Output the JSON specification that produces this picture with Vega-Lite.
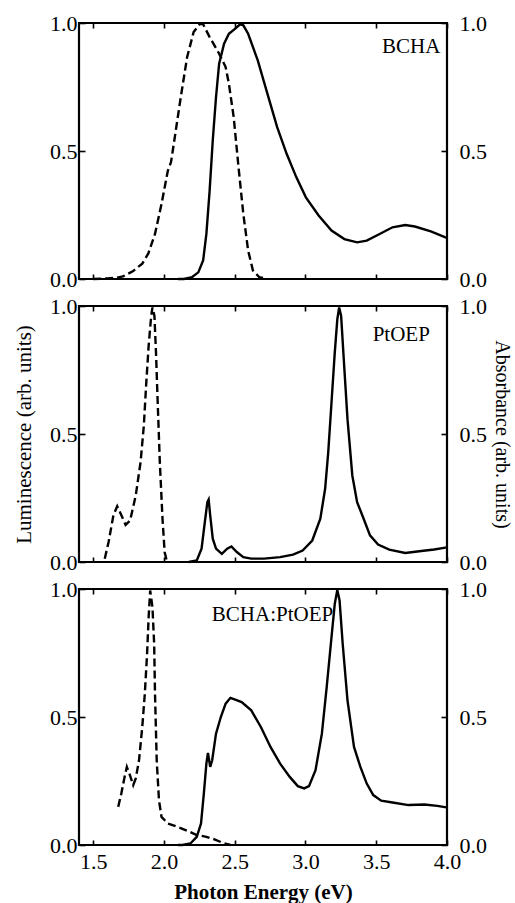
{
  "$schema": "https://vega.github.io/schema/vega-lite/v6.json",
  "background": "white",
  "padding": {"left": 12, "top": 10, "right": 0, "bottom": 0},
  "spacing": 27,
  "bounds": "flush",
  "config": {
    "font": "Liberation Serif",
    "view": {"stroke": "black", "strokeWidth": 2.2},
    "axis": {
      "labelFont": "Liberation Serif", "titleFont": "Liberation Serif",
      "labelColor": "black", "titleColor": "black", "tickColor": "black",
      "domain": false, "grid": false, "labelFontSize": 22, "titleFontSize": 21,
      "titleFontWeight": "normal", "labelFlush": false, "labelOverlap": false,
      "labelBound": false, "tickWidth": 1.6
    }
  },
  "vconcat": [
    {
      "width": 368, "height": 256,
      "layer": [
        {
          "data": {"values": [
            {"E":1.5,"v":0.0},{"E":1.6,"v":0.002},{"E":1.665,"v":0.005},{"E":1.71,"v":0.01},{"E":1.78,"v":0.03},{"E":1.847,"v":0.06},{"E":1.89,"v":0.1},{"E":1.937,"v":0.176},{"E":1.983,"v":0.293},{"E":2.028,"v":0.424},{"E":2.05,"v":0.456},{"E":2.073,"v":0.54},{"E":2.119,"v":0.71},{"E":2.164,"v":0.867},{"E":2.21,"v":0.965},{"E":2.255,"v":0.997},{"E":2.277,"v":0.995},{"E":2.323,"v":0.945},{"E":2.39,"v":0.88},{"E":2.436,"v":0.828},{"E":2.459,"v":0.763},{"E":2.493,"v":0.632},{"E":2.527,"v":0.437},{"E":2.561,"v":0.254},{"E":2.595,"v":0.111},{"E":2.629,"v":0.033},{"E":2.674,"v":0.007},{"E":2.73,"v":0.0}
          ]},
          "mark": {"type": "line", "color": "black", "strokeWidth": 2.4, "strokeDash": [8, 4]},
          "encoding": {
            "x": {"field": "E", "type": "quantitative", "scale": {"domain": [1.5, 4]},
                  "axis": {"orient": "bottom", "values": [1.5,2,2.5,3,3.5,4], "labels": false, "tickSize": -5, "title": null}},
            "y": {"field": "v", "type": "quantitative", "scale": {"domain": [0, 1]},
                  "axis": {"orient": "left", "values": [0,0.5,1], "format": ".1f", "tickSize": -6, "labelPadding": 8, "title": null}}
          }
        },
        {
          "data": {"values": [
            {"E":2.1,"v":0},{"E":2.141,"v":0},{"E":2.198,"v":0.007},{"E":2.243,"v":0.026},{"E":2.277,"v":0.072},{"E":2.3,"v":0.176},{"E":2.323,"v":0.345},{"E":2.345,"v":0.541},{"E":2.368,"v":0.71},{"E":2.39,"v":0.841},{"E":2.425,"v":0.919},{"E":2.459,"v":0.958},{"E":2.504,"v":0.978},{"E":2.538,"v":0.995},{"E":2.561,"v":0.991},{"E":2.595,"v":0.958},{"E":2.663,"v":0.854},{"E":2.731,"v":0.724},{"E":2.8,"v":0.593},{"E":2.867,"v":0.489},{"E":2.935,"v":0.398},{"E":3.003,"v":0.319},{"E":3.093,"v":0.248},{"E":3.184,"v":0.189},{"E":3.275,"v":0.156},{"E":3.365,"v":0.143},{"E":3.433,"v":0.15},{"E":3.524,"v":0.176},{"E":3.615,"v":0.202},{"E":3.705,"v":0.211},{"E":3.773,"v":0.205},{"E":3.886,"v":0.186},{"E":3.989,"v":0.163},{"E":4.0,"v":0.161}
          ]},
          "mark": {"type": "line", "color": "black", "strokeWidth": 2.4},
          "encoding": {
            "x": {"field": "E", "type": "quantitative", "scale": {"domain": [1.5, 4]},
                  "axis": {"orient": "top", "values": [1.5,2,2.5,3,3.5,4], "labels": false, "tickSize": -5, "title": null}},
            "y": {"field": "v", "type": "quantitative", "scale": {"domain": [0, 1]},
                  "axis": {"orient": "right", "values": [0,0.5,1], "format": ".1f", "tickSize": -6, "labelPadding": 18, "title": null}}
          }
        },
        {
          "data": {"values": [{"name": "BCHA"}]},
          "mark": {"type": "text", "align": "right", "baseline": "alphabetic", "fontSize": 21, "font": "Liberation Serif", "color": "black"},
          "encoding": {
            "x": {"datum": 3.953, "type": "quantitative", "axis": null},
            "y": {"datum": 0.882, "type": "quantitative", "axis": null},
            "text": {"field": "name"}
          }
        }
      ],
      "resolve": {"axis": {"x": "independent", "y": "independent"}}
    },
    {
      "width": 368, "height": 256,
      "layer": [
        {
          "data": {"values": [
            {"E":1.582,"v":0.013},{"E":1.609,"v":0.078},{"E":1.643,"v":0.182},{"E":1.67,"v":0.218},{"E":1.7,"v":0.182},{"E":1.729,"v":0.145},{"E":1.761,"v":0.162},{"E":1.801,"v":0.26},{"E":1.835,"v":0.39},{"E":1.858,"v":0.532},{"E":1.874,"v":0.688},{"E":1.892,"v":0.844},{"E":1.91,"v":0.961},{"E":1.919,"v":0.994},{"E":1.933,"v":0.961},{"E":1.944,"v":0.818},{"E":1.956,"v":0.623},{"E":1.971,"v":0.39},{"E":1.99,"v":0.169},{"E":2.005,"v":0.039},{"E":2.019,"v":0.006}
          ]},
          "mark": {"type": "line", "color": "black", "strokeWidth": 2.4, "strokeDash": [8, 4]},
          "encoding": {
            "x": {"field": "E", "type": "quantitative", "scale": {"domain": [1.5, 4]},
                  "axis": {"orient": "bottom", "values": [1.5,2,2.5,3,3.5,4], "labels": false, "tickSize": -5, "title": null}},
            "y": {"field": "v", "type": "quantitative", "scale": {"domain": [0, 1]},
                  "axis": {"orient": "left", "values": [0,0.5,1], "format": ".1f", "tickSize": -6, "labelPadding": 8, "title": "Luminescence (arb. units)", "titlePadding": 15}}
          }
        },
        {
          "data": {"values": [
            {"E":2.175,"v":0},{"E":2.232,"v":0.006},{"E":2.266,"v":0.052},{"E":2.289,"v":0.156},{"E":2.307,"v":0.234},{"E":2.316,"v":0.244},{"E":2.327,"v":0.182},{"E":2.345,"v":0.091},{"E":2.368,"v":0.052},{"E":2.409,"v":0.032},{"E":2.447,"v":0.052},{"E":2.477,"v":0.061},{"E":2.515,"v":0.039},{"E":2.561,"v":0.019},{"E":2.617,"v":0.013},{"E":2.708,"v":0.013},{"E":2.821,"v":0.019},{"E":2.912,"v":0.029},{"E":2.98,"v":0.045},{"E":3.048,"v":0.084},{"E":3.105,"v":0.169},{"E":3.139,"v":0.286},{"E":3.161,"v":0.429},{"E":3.184,"v":0.623},{"E":3.207,"v":0.818},{"E":3.225,"v":0.948},{"E":3.238,"v":0.994},{"E":3.252,"v":0.961},{"E":3.275,"v":0.753},{"E":3.297,"v":0.558},{"E":3.331,"v":0.338},{"E":3.365,"v":0.234},{"E":3.411,"v":0.169},{"E":3.456,"v":0.104},{"E":3.513,"v":0.068},{"E":3.592,"v":0.048},{"E":3.705,"v":0.035},{"E":3.819,"v":0.043},{"E":3.909,"v":0.049},{"E":3.989,"v":0.056},{"E":4.0,"v":0.057}
          ]},
          "mark": {"type": "line", "color": "black", "strokeWidth": 2.4},
          "encoding": {
            "x": {"field": "E", "type": "quantitative", "scale": {"domain": [1.5, 4]},
                  "axis": {"orient": "top", "values": [1.5,2,2.5,3,3.5,4], "labels": false, "tickSize": -5, "title": null}},
            "y": {"field": "v", "type": "quantitative", "scale": {"domain": [0, 1]},
                  "axis": {"orient": "right", "values": [0,0.5,1], "format": ".1f", "tickSize": -6, "labelPadding": 18, "title": "Absorbance (arb. units)", "titlePadding": 5, "titleFontSize": 20}}
          }
        },
        {
          "data": {"values": [{"name": "PtOEP"}]},
          "mark": {"type": "text", "align": "center", "baseline": "alphabetic", "fontSize": 21, "font": "Liberation Serif", "color": "black"},
          "encoding": {
            "x": {"datum": 3.677, "type": "quantitative", "axis": null},
            "y": {"datum": 0.863, "type": "quantitative", "axis": null},
            "text": {"field": "name"}
          }
        }
      ],
      "resolve": {"axis": {"x": "independent", "y": "independent"}}
    },
    {
      "width": 368, "height": 256,
      "layer": [
        {
          "data": {"values": [
            {"E":1.677,"v":0.149},{"E":1.699,"v":0.201},{"E":1.722,"v":0.266},{"E":1.738,"v":0.305},{"E":1.756,"v":0.279},{"E":1.783,"v":0.234},{"E":1.801,"v":0.26},{"E":1.824,"v":0.331},{"E":1.847,"v":0.461},{"E":1.865,"v":0.591},{"E":1.881,"v":0.747},{"E":1.892,"v":0.89},{"E":1.903,"v":0.994},{"E":1.919,"v":0.929},{"E":1.931,"v":0.786},{"E":1.937,"v":0.591},{"E":1.949,"v":0.331},{"E":1.965,"v":0.175},{"E":1.983,"v":0.11},{"E":2.028,"v":0.084},{"E":2.096,"v":0.071},{"E":2.164,"v":0.056},{"E":2.232,"v":0.039},{"E":2.3,"v":0.032},{"E":2.357,"v":0.022},{"E":2.413,"v":0.009},{"E":2.47,"v":0.0}
          ]},
          "mark": {"type": "line", "color": "black", "strokeWidth": 2.4, "strokeDash": [8, 4]},
          "encoding": {
            "x": {"field": "E", "type": "quantitative", "scale": {"domain": [1.5, 4]},
                  "axis": {"orient": "bottom", "values": [1.5,2,2.5,3,3.5,4], "format": ".1f", "labels": true, "tickSize": -5, "labelPadding": 11, "title": "Photon Energy (eV)", "titleFontWeight": "bold", "titlePadding": 9}},
            "y": {"field": "v", "type": "quantitative", "scale": {"domain": [0, 1]},
                  "axis": {"orient": "left", "values": [0,0.5,1], "format": ".1f", "tickSize": -6, "labelPadding": 8, "title": null}}
          }
        },
        {
          "data": {"values": [
            {"E":2.1,"v":0},{"E":2.13,"v":0},{"E":2.187,"v":0.006},{"E":2.232,"v":0.032},{"E":2.262,"v":0.084},{"E":2.282,"v":0.201},{"E":2.3,"v":0.318},{"E":2.311,"v":0.36},{"E":2.327,"v":0.305},{"E":2.341,"v":0.331},{"E":2.368,"v":0.435},{"E":2.402,"v":0.5},{"E":2.436,"v":0.552},{"E":2.47,"v":0.575},{"E":2.504,"v":0.568},{"E":2.549,"v":0.558},{"E":2.617,"v":0.526},{"E":2.685,"v":0.461},{"E":2.753,"v":0.383},{"E":2.821,"v":0.318},{"E":2.889,"v":0.266},{"E":2.946,"v":0.23},{"E":2.991,"v":0.221},{"E":3.025,"v":0.23},{"E":3.071,"v":0.292},{"E":3.116,"v":0.435},{"E":3.15,"v":0.617},{"E":3.184,"v":0.812},{"E":3.207,"v":0.942},{"E":3.225,"v":0.996},{"E":3.241,"v":0.955},{"E":3.263,"v":0.786},{"E":3.297,"v":0.565},{"E":3.343,"v":0.383},{"E":3.388,"v":0.305},{"E":3.433,"v":0.24},{"E":3.479,"v":0.195},{"E":3.535,"v":0.173},{"E":3.615,"v":0.166},{"E":3.728,"v":0.156},{"E":3.841,"v":0.158},{"E":3.932,"v":0.153},{"E":3.995,"v":0.147},{"E":4.0,"v":0.147}
          ]},
          "mark": {"type": "line", "color": "black", "strokeWidth": 2.4},
          "encoding": {
            "x": {"field": "E", "type": "quantitative", "scale": {"domain": [1.5, 4]},
                  "axis": {"orient": "top", "values": [1.5,2,2.5,3,3.5,4], "labels": false, "tickSize": -5, "title": null}},
            "y": {"field": "v", "type": "quantitative", "scale": {"domain": [0, 1]},
                  "axis": {"orient": "right", "values": [0,0.5,1], "format": ".1f", "tickSize": -6, "labelPadding": 18, "title": null}}
          }
        },
        {
          "data": {"values": [{"name": "BCHA:PtOEP"}]},
          "mark": {"type": "text", "align": "center", "baseline": "alphabetic", "fontSize": 21, "font": "Liberation Serif", "color": "black"},
          "encoding": {
            "x": {"datum": 2.767, "type": "quantitative", "axis": null},
            "y": {"datum": 0.875, "type": "quantitative", "axis": null},
            "text": {"field": "name"}
          }
        }
      ],
      "resolve": {"axis": {"x": "independent", "y": "independent"}}
    }
  ]
}
